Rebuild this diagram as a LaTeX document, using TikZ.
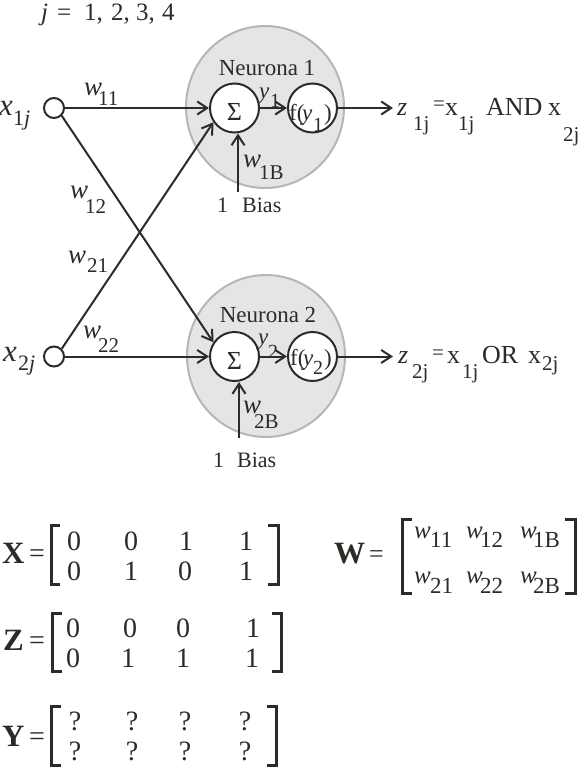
\documentclass[tikz,border=0pt]{standalone}
\usepackage{fontspec}
\setmainfont{Liberation Serif}
\usetikzlibrary{arrows.meta,shapes.geometric}
\definecolor{ink}{RGB}{45,43,38}
\definecolor{neufill}{RGB}{229,229,229}
\definecolor{neuedge}{RGB}{182,182,182}
\newcommand\fs[1]{\fontsize{#1}{#1}\selectfont}
% size, box width, letter, lowering, subscript, subsize
\newcommand\ilab[6]{\makebox[#2pt][l]{\fs{#1}\textit{#3}}\raisebox{-#4pt}{\fs{#6}#5}}
\tikzset{
  lbl/.style={inner sep=0pt, anchor=base west, text=ink},
  lblc/.style={inner sep=0pt, anchor=base, text=ink},
  inp/.style={circle, draw=ink, line width=2pt, fill=white, minimum size=20pt, inner sep=0pt},
  unit/.style={circle, draw=ink, line width=2pt, fill=white, minimum size=49pt, inner sep=0pt},
  neuron/.style={ellipse, draw=neuedge, line width=2pt, fill=neufill, minimum width=158pt, minimum height=162pt, inner sep=0pt},
  conn/.style={draw=ink, line width=2pt, -{Straight Barb[length=10pt,width=13pt]}},
  brk/.style={draw=ink, line width=3pt, line join=miter},
  entry/.style={inner sep=0pt, anchor=base, text=ink, font=\fs{28}}
}
\begin{document}
\begin{tikzpicture}[x=1pt,y=-1pt]
\fill[white] (0,0) rectangle (586,768);
\useasboundingbox (0,0) rectangle (586,768);

% header
\node[lbl] (jlab) at (41,21) {\fs{25}\makebox[16pt][l]{\textit{j}}\makebox[27pt][l]{=}\makebox[27pt][l]{1,}\makebox[25pt][l]{2,}\makebox[26pt][l]{3,}4};

% neurons
\node[neuron] (n1) at (265,107) {};
\node[neuron] (n2) at (266,356) {};
\node[lblc] (n1lab) at (267,75) {\fs{23}Neurona 1};
\node[lblc] (n2lab) at (268,322) {\fs{23}Neurona 2};

% inputs
\node[inp] (x1) at (54,108) {};
\node[inp] (x2) at (54,356.5) {};
\node[lbl] (x1lab) at (-1,115) {\ilab{31}{14}{x}{10}{1\textit{j}}{22}};
\node[lbl] (x2lab) at (3,361) {\ilab{31}{15}{x}{9}{2\textit{j}}{22}};

% units
\node[unit] (s1) at (234.5,108) {};
\node[unit] (f1) at (312.5,108) {};
\node[unit] (s2) at (234.5,356.5) {};
\node[unit] (f2) at (312.5,356.5) {};
\node[lblc] (s1t) at (234.5,120) {\fs{26}Σ};
\node[lblc] (s2t) at (234.5,369) {\fs{26}Σ};
\node[lbl] (f1t) at (289,120) {\fs{23}\makebox[13pt][l]{f(}\makebox[11pt][l]{\textit{y}}\makebox[11pt][l]{\raisebox{-11pt}{\fs{20}1}})};
\node[lbl] (f2t) at (290,365) {\fs{23}\makebox[13pt][l]{f(}\makebox[10pt][l]{\textit{y}}\makebox[11pt][l]{\raisebox{-9pt}{\fs{20}2}})};

% connections
\draw[conn] (x1) -- (s1);
\draw[conn] (x2) -- (s2);
\draw[conn] (x1.-45) -- (s2.146);
\draw[conn] (x2.45) -- (s1.214);
\draw[conn] (s1) -- (f1);
\draw[conn] (s2) -- (f2);
\coordinate (z1) at (393,108);
\coordinate (z2) at (393,356.5);
\draw[conn] (f1) -- (z1);
\draw[conn] (f2) -- (z2);
\coordinate (b1) at (238,192);
\coordinate (b2) at (239,438);
\draw[conn] (b1) -- (b1 |- s1.south);
\draw[conn] (b2) -- (b2 |- s2.south);

% weight labels
\node[lbl] (w11) at (84,95) {\ilab{27}{14}{w}{10}{11}{21}};
\node[lbl] (w12) at (70,198) {\ilab{27}{15}{w}{15}{12}{21}};
\node[lbl] (w21) at (68,263) {\ilab{27}{19}{w}{9}{21}{21}};
\node[lbl] (w22) at (83,338) {\ilab{27}{15}{w}{14}{22}{21}};
\node[lbl] (w1B) at (243,167) {\ilab{27}{16}{w}{12}{1B}{21}};
\node[lbl] (w2B) at (243,413) {\ilab{27}{11}{w}{15}{2B}{21}};
\node[lbl] (y1) at (259,99) {\ilab{23}{11}{y}{9}{1}{20}};
\node[lbl] (y2) at (258,344) {\ilab{23}{10}{y}{14}{2}{20}};

% bias
\node[lbl] (bias1) at (217,212) {\fs{22}\makebox[25pt][l]{1}Bias};
\node[lbl] (bias2) at (213,467) {\fs{22}\makebox[24pt][l]{1}Bias};

% outputs
\node[lbl] (z1lab) at (397,115) {\fs{26}\makebox[16pt][l]{\textit{z}}\makebox[20pt][l]{\raisebox{-15pt}{\fs{21}1j}}\makebox[12pt][l]{\raisebox{5pt}{\fs{21}=}}\makebox[13pt][l]{x}\makebox[28pt][l]{\raisebox{-15pt}{\fs{21}1j}}\makebox[62pt][l]{AND}\makebox[15pt][l]{x}\raisebox{-26pt}{\fs{21}2j}};
\node[lbl] (z2lab) at (398,363) {\fs{26}\makebox[14pt][l]{\textit{z}}\makebox[20pt][l]{\raisebox{-15pt}{\fs{21}2j}}\makebox[15pt][l]{\raisebox{4pt}{\fs{21}=}}\makebox[15pt][l]{x}\makebox[20pt][l]{\raisebox{-15pt}{\fs{21}1j}}\makebox[46pt][l]{OR}\makebox[14pt][l]{x}\raisebox{-7pt}{\fs{21}2j}};

% matrix X
\node[lbl] (Xn) at (2,563) {\fs{31}\bfseries X};
\node[lbl] (Xeq) at (29,562) {\fs{28}=};
\draw[brk] (60,525.5) -- (51.5,525.5) -- (51.5,584.5) -- (60,584.5);
\draw[brk] (268,525.5) -- (278,525.5) -- (278,584.5) -- (268,584.5);
\foreach \xx/\v [count=\i] in {74/0,131/0,186/1,246/1} \node[entry] (X1\i) at (\xx,550) {\v};
\foreach \xx/\v [count=\i] in {74/0,131/1,185/0,246/1} \node[entry] (X2\i) at (\xx,580) {\v};

% matrix Z
\node[lbl] (Zn) at (3,650) {\fs{31}\bfseries Z};
\node[lbl] (Zeq) at (29,649) {\fs{28}=};
\draw[brk] (62,613.5) -- (52.5,613.5) -- (52.5,671.5) -- (62,671.5);
\draw[brk] (272,613.5) -- (281,613.5) -- (281,671.5) -- (272,671.5);
\foreach \xx/\v [count=\i] in {73/0,130/0,183/0,253/1} \node[entry] (Z1\i) at (\xx,637) {\v};
\foreach \xx/\v [count=\i] in {73/0,128/1,183/1,252/1} \node[entry] (Z2\i) at (\xx,667) {\v};

% matrix Y
\node[lbl] (Yn) at (2,746) {\fs{31}\bfseries Y};
\node[lbl] (Yeq) at (29,745) {\fs{28}=};
\draw[brk] (61,706.5) -- (51.5,706.5) -- (51.5,765.5) -- (61,765.5);
\draw[brk] (267,706.5) -- (276.5,706.5) -- (276.5,765.5) -- (267,765.5);
\foreach \xx [count=\i] in {75,132,185,245} \node[entry] (Y1\i) at (\xx,730) {?};
\foreach \xx [count=\i] in {75,132,185,245} \node[entry] (Y2\i) at (\xx,760) {?};

% matrix W
\node[lbl] (Wn) at (334,563) {\fs{31}\bfseries W};
\node[lbl] (Weq) at (369,562) {\fs{26}=};
\draw[brk] (412,519.5) -- (402.5,519.5) -- (402.5,593.5) -- (412,593.5);
\draw[brk] (565,519.5) -- (575,519.5) -- (575,593.5) -- (565,593.5);
\node[lbl] (W11) at (414,538) {\ilab{25}{16}{w}{9}{11}{23}};
\node[lbl] (W12) at (466,538) {\ilab{25}{14}{w}{9}{12}{23}};
\node[lbl] (W1B) at (520,538) {\ilab{25}{13}{w}{9}{1B}{23}};
\node[lbl] (W21) at (414,583) {\ilab{25}{16}{w}{10}{21}{23}};
\node[lbl] (W22) at (466,583) {\ilab{25}{14}{w}{10}{22}{23}};
\node[lbl] (W2B) at (520,583) {\ilab{25}{13}{w}{10}{2B}{23}};
\end{tikzpicture}
\end{document}
